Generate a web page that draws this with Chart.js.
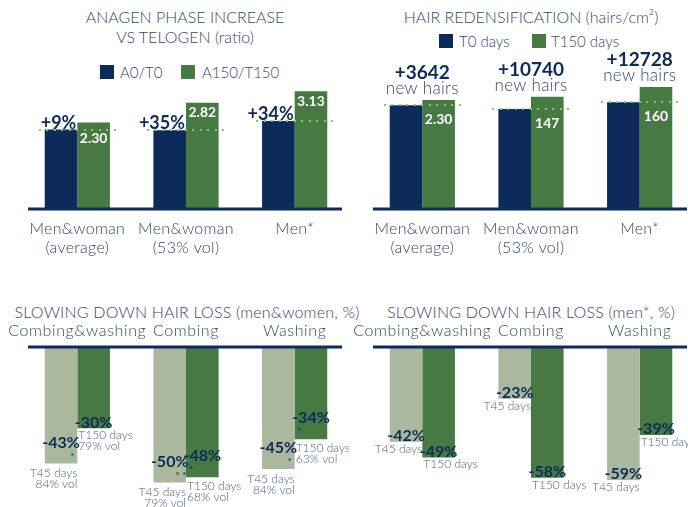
<!DOCTYPE html>
<html lang="en">
<head>
  <meta charset="UTF-8">
  <script src="https://cdn.jsdelivr.net/npm/chart.js"></script>
  <title>Hair results</title>
  <style>
    body {
      margin: 0;
      width: 688px;
      height: 507px;
      overflow: hidden;
      position: relative;
      background: #fff;
      font-family: Lato, "Open Sans", sans-serif;
      color: #34486d;
    }
    canvas { position: absolute; }
    .title {
      position: absolute;
      width: 400px;
      text-align: center;
      font-size: 16px;
      font-weight: 300;
      line-height: 20px;
      white-space: nowrap;
    }
    .sw { position: absolute; width: 14px; height: 14px; }
    .lg { position: absolute; font-size: 15px; font-weight: 300; line-height: 16px; white-space: nowrap; }
  </style>
</head>
<body>

  <div class="title" style="left:-15px; top:7px;">ANAGEN PHASE INCREASE<br>VS TELOGEN (ratio)</div>
  <div class="sw" style="left:100px; top:65px; background:#0c2b5a;"></div>
  <div class="lg" style="left:120px; top:64px;">A0/T0</div>
  <div class="sw" style="left:181px; top:65px; background:#477a43;"></div>
  <div class="lg" style="left:202px; top:64px;">A150/T150</div>

  <div class="title" style="left:331px; top:7px;">HAIR REDENSIFICATION (hairs/cm²)</div>
  <div class="sw" style="left:439px; top:34px; background:#0c2b5a;"></div>
  <div class="lg" style="left:459px; top:33px;">T0 days</div>
  <div class="sw" style="left:532px; top:34px; background:#477a43;"></div>
  <div class="lg" style="left:551px; top:33px;">T150 days</div>

  <div class="title" style="left:-13px; top:302px; letter-spacing:0.2px;">SLOWING DOWN HAIR LOSS (men&amp;women, %)</div>
  <div class="title" style="left:331px; top:302px; letter-spacing:0.2px;">SLOWING DOWN HAIR LOSS (men*, %)</div>

  <canvas id="anagen" width="349" height="260" style="left:0; top:0;"></canvas>
  <canvas id="density" width="350" height="260" style="left:344px; top:0;"></canvas>
  <canvas id="lossAll" width="349" height="217" style="left:0; top:290px;"></canvas>
  <canvas id="lossMen" width="350" height="217" style="left:344px; top:290px;"></canvas>

  <script>
    // top charts
    const topCats = [['Men&woman', '(average)'], ['Men&woman', '(53% vol)'], ['Men*']];
    const anagenBefore = [2.11, 2.09, 2.34];
    const anagenAfter = [2.30, 2.82, 3.13];
    const anagenGain = ['+9%', '+35%', '+34%'];
    const anagenShown = ['2.30', '2.82', '3.13'];

    const densityBefore = [136, 131, 140];
    const densityAfter = [143, 147, 160];
    const densityGain = ['+3642', '+10740', '+12728'];
    const densityShown = ['2.30', '147', '160'];

    // bottom charts
    const lossCats = ['Combing&washing', 'Combing', 'Washing'];
    const lossAllT45 = [-43, -50, -45];
    const lossAllT150 = [-30, -48, -34];
    const lossAllStarsT45 = ['*', '* *', '*'];
    const lossAllStarsT150 = ['', '*', '*'];
    const lossAllNotesT45 = [['T45 days', '84% vol'], ['T45 days', '79% vol'], ['T45 days', '84% vol']];
    const lossAllNotesT150 = [['T150 days', '79% vol'], ['T150 days', '68% vol'], ['T150 days', '63% vol']];

    const lossMenT45 = [-42, -23, -59];
    const lossMenT150 = [-49, -58, -39];
    const lossMenNotesT45 = [['T45 days'], ['T45 days'], ['T45 days']];
    const lossMenNotesT150 = [['T150 days'], ['T150 days'], ['T150 days']];

    const navy = '#0c2b5a';
    const green = '#477a43';
    const sage = '#aab89e';
    const dotGreen = '#86cc62';
    const textBlue = '#34486d';
    const noteBlue = '#4d5e80';
    const FAM = 'Lato, "Open Sans", sans-serif';

    function text(ctx, s, x, y, font, color, align, base, spacing) {
      ctx.save();
      ctx.font = font;
      ctx.fillStyle = color;
      ctx.textAlign = align || 'center';
      ctx.textBaseline = base || 'middle';
      if (spacing) ctx.letterSpacing = spacing;
      ctx.fillText(s, x, y);
      ctx.restore();
    }

    function axisLine(chart) {
      const a = chart.chartArea;
      const y = chart.scales.y.getPixelForValue(0);
      const ctx = chart.ctx;
      ctx.save();
      ctx.strokeStyle = navy;
      ctx.lineWidth = 3;
      ctx.beginPath();
      ctx.moveTo(a.left + 5, y);
      ctx.lineTo(a.right - 7, y);
      ctx.stroke();
      ctx.restore();
    }

    function dots(ctx, x0, x1, y) {
      ctx.save();
      ctx.fillStyle = dotGreen;
      for (let x = x0; x <= x1; x += 7.5) {
        ctx.fillRect(Math.round(x) - 1, Math.round(y) - 1, 2, 2);
      }
      ctx.restore();
    }

    function catLabels(chart, y0) {
      topCats.forEach((lines, i) => {
        const x = chart.scales.x.getPixelForValue(i);
        lines.forEach((l, k) => text(chart.ctx, l, x, y0 + k * 19, '300 16px ' + FAM, textBlue, 'center', 'middle', '0.3px'));
      });
    }

    function barOptions(min, max, padding) {
      return {
        responsive: false,
        animation: false,
        layout: { padding: padding },
        plugins: { legend: { display: false }, tooltip: { enabled: false } },
        scales: {
          x: { display: false },
          y: { display: false, min: min, max: max }
        }
      };
    }

    function twoBars(labels, a, b, colA, colB) {
      return {
        labels: labels,
        datasets: [
          { data: a, backgroundColor: colA, barPercentage: 1, categoryPercentage: 0.6 },
          { data: b, backgroundColor: colB, barPercentage: 1, categoryPercentage: 0.6 }
        ]
      };
    }

    // ANAGEN
    new Chart(document.getElementById('anagen'), {
      type: 'bar',
      data: twoBars(topCats, anagenBefore, anagenAfter, navy, green),
      options: barOptions(0, 5.5, { left: 23, top: 2, bottom: 51 }),
      plugins: [{
        id: 'anagenMarks',
        afterDatasetsDraw(chart) {
          const ctx = chart.ctx;
          const d0 = chart.getDatasetMeta(0).data, d1 = chart.getDatasetMeta(1).data;
          axisLine(chart);
          d0.forEach((d, i) => {
            const g = d1[i];
            dots(ctx, d.x - d.width / 2 - 5, g.x + g.width / 2 + 8, d.y);
            text(ctx, anagenGain[i], d.x + d.width / 2 - 1, d.y - 1, 'bold 18px ' + FAM, navy, 'right', 'alphabetic');
            const vy = (d.y - g.y < 15) ? d.y + 9 : g.y + 10;
            text(ctx, anagenShown[i], g.x, vy, 'bold 14px ' + FAM, '#fff');
          });
          catLabels(chart, chart.chartArea.bottom + 20);
        }
      }]
    });

    // DENSITY
    new Chart(document.getElementById('density'), {
      type: 'bar',
      data: twoBars(topCats, densityBefore, densityAfter, navy, green),
      options: barOptions(0, 270, { left: 24, top: 3, bottom: 51 }),
      plugins: [{
        id: 'densityMarks',
        afterDatasetsDraw(chart) {
          const ctx = chart.ctx;
          const d0 = chart.getDatasetMeta(0).data, d1 = chart.getDatasetMeta(1).data;
          axisLine(chart);
          d0.forEach((d, i) => {
            const g = d1[i];
            const mid = d.x + d.width / 2;
            dots(ctx, d.x - d.width / 2 - 5, g.x + g.width / 2 + 8, d.y);
            text(ctx, densityGain[i], mid, g.y - 27, 'bold 19px ' + FAM, navy);
            text(ctx, 'new hairs', mid, g.y - 11, '300 17px ' + FAM, textBlue, 'center', 'middle', '0.3px');
            text(ctx, densityShown[i], g.x, d.y + 14, 'bold 14px ' + FAM, '#fff');
          });
          catLabels(chart, chart.chartArea.bottom + 20);
        }
      }]
    });

    function lossMarks(id, starsA, starsB, notesA, notesB) {
      return {
        id: id,
        afterDatasetsDraw(chart) {
          const ctx = chart.ctx;
          const d0 = chart.getDatasetMeta(0).data, d1 = chart.getDatasetMeta(1).data;
          const vals0 = chart.data.datasets[0].data, vals1 = chart.data.datasets[1].data;
          axisLine(chart);
          const top = chart.chartArea.top;
          lossCats.forEach((c, i) => {
            text(ctx, c, chart.scales.x.getPixelForValue(i), top - 16, '300 16px ' + FAM, textBlue, 'center', 'middle', '0.6px');
          });
          d0.forEach((a, i) => {
            const b = d1[i];
            const sa = starsA[i], sb = starsB[i];
            // T45
            text(ctx, vals0[i] + '%', a.x, a.y - (sa ? 21 : 6), 'bold 16px ' + FAM, navy);
            if (sa) text(ctx, sa, a.x + a.width / 2 - 5, a.y - 7, '10px ' + FAM, navy);
            notesA[i].forEach((n, k) => text(ctx, n, a.x + a.width / 2, a.y + (sa ? 10 : 7) + k * 11, '300 12px ' + FAM, noteBlue, 'right'));
            // T150
            text(ctx, vals1[i] + '%', b.x, b.y - (sb ? 21 : 6), 'bold 16px ' + FAM, navy);
            if (sb) text(ctx, sb, b.x - b.width / 2 + 5, b.y - 7, '10px ' + FAM, navy);
            notesB[i].forEach((n, k) => text(ctx, n, b.x - b.width / 2 + 1, b.y + (sb ? 9 : 7) + k * 11, '300 12px ' + FAM, noteBlue, 'left'));
          });
        }
      };
    }

    new Chart(document.getElementById('lossAll'), {
      type: 'bar',
      data: twoBars(lossCats, lossAllT45, lossAllT150, sage, green),
      options: barOptions(-59, 0, { left: 23, top: 57, bottom: 0 }),
      plugins: [lossMarks('lossAllMarks', lossAllStarsT45, lossAllStarsT150, lossAllNotesT45, lossAllNotesT150)]
    });

    new Chart(document.getElementById('lossMen'), {
      type: 'bar',
      data: twoBars(lossCats, lossMenT45, lossMenT150, sage, green),
      options: barOptions(-71, 0, { left: 24, top: 57, bottom: 0 }),
      plugins: [lossMarks('lossMenMarks', ['', '', ''], ['', '', ''], lossMenNotesT45, lossMenNotesT150)]
    });
  </script>
</body>
</html>
